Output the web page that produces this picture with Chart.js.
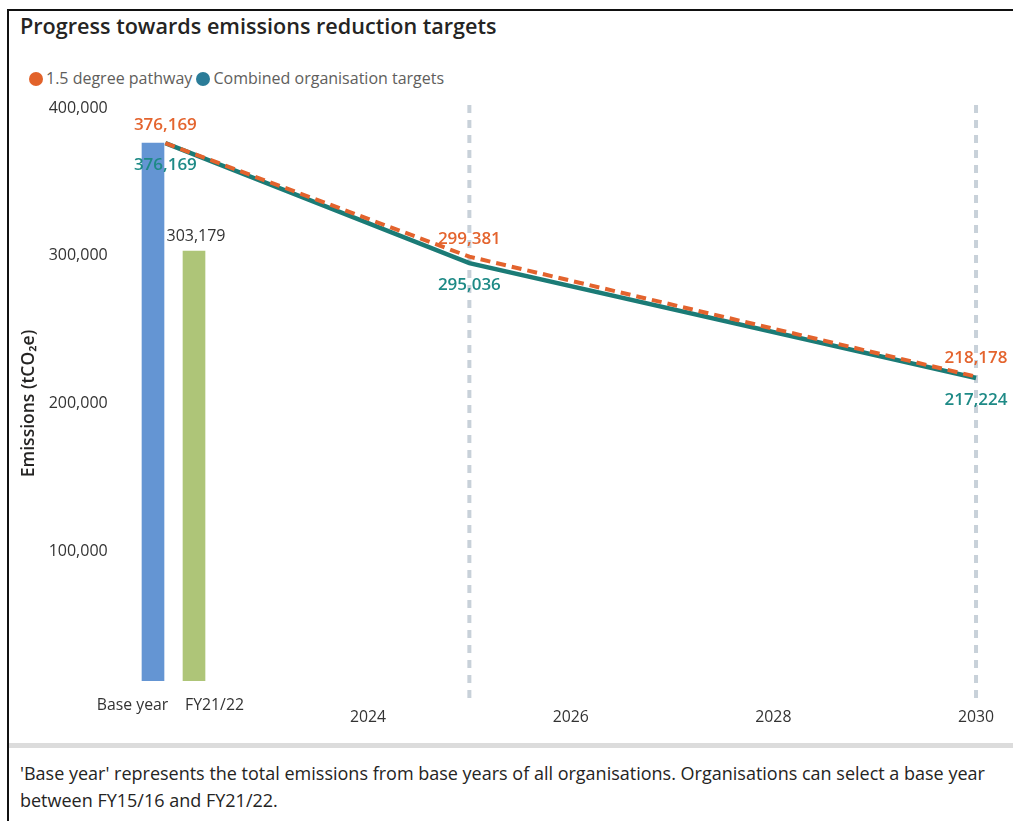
<!DOCTYPE html>
<html>
<head>
<meta charset="utf-8">
<script src="https://cdn.jsdelivr.net/npm/chart.js@4.4.0/dist/chart.umd.min.js"></script>
<style>
body{margin:0;background:#fff;width:1013px;height:821px;overflow:hidden;position:relative;font-family:'Open Sans',sans-serif;}
#frame{position:absolute;left:7px;top:9px;right:0;bottom:0;border-left:2px solid #111;border-top:2px solid #111;}
#title{position:absolute;left:20px;top:11px;font-size:21.6px;font-weight:600;color:#252423;white-space:nowrap;}
#legend{position:absolute;left:29px;top:67px;font-size:16px;color:#605e5c;white-space:nowrap;}
.dot{display:inline-block;width:14px;height:14px;border-radius:50%;vertical-align:-2px;margin-right:3px;}
#barWrap{position:absolute;left:80px;top:60px;width:200px;height:680px;}
#lineWrap{position:absolute;left:0;top:60px;width:1013px;height:680px;}
#sep{position:absolute;left:9px;right:0;top:743px;height:5px;background:#dcdcdc;}
#note{position:absolute;left:20px;top:760px;font-size:18px;line-height:27px;color:#252423;white-space:nowrap;}
</style>
</head>
<body>
<div id="frame"></div>
<div id="title">Progress towards emissions reduction targets</div>
<div id="legend"><span class="dot" style="background:#e2622a"></span>1.5 degree pathway <span class="dot" style="background:#2b7c98"></span>Combined organisation targets</div>
<div id="barWrap"><canvas id="barChart"></canvas></div>
<div id="lineWrap"><canvas id="lineChart"></canvas></div>
<div id="sep"></div>
<div id="note">'Base year' represents the total emissions from base years of all organisations. Organisations can select a base year<br>between FY15/16 and FY21/22.</div>
<script>
// data
var barLabels = ['Base year', 'FY21/22'];
var barValues = [376169, 303179];
var barColors = ['#6495d3', '#aec578'];

var targetYears = [2022, 2025, 2030];
var pathwayValues = [376169, 299381, 218178];
var combinedValues = [376169, 295036, 217224];

var xTickYears = [2024, 2026, 2028, 2030];
var yTickValues = [100000, 200000, 300000, 400000];
var dividerYears = [2025, 2030];

Chart.defaults.font.family = "'Open Sans', sans-serif";
Chart.defaults.color = '#333';

function fmt(v){
	return Number(v).toLocaleString('en-US');
}

// value above the FY21/22 bar (base year value is shown by the line labels)
var barValueLabels = {
	id: 'barValueLabels',
	afterDatasetsDraw: function(chart){
		var ctx = chart.ctx;
		var meta = chart.getDatasetMeta(0);
		ctx.save();
		ctx.font = '16px "Open Sans", sans-serif';
		ctx.fillStyle = '#333';
		ctx.textAlign = 'center';
		ctx.textBaseline = 'bottom';
		for(var i=1; i<meta.data.length; i++){
			var bar = meta.data[i];
			ctx.fillText(fmt(barValues[i]), bar.x + 2, bar.y - 7);
		}
		ctx.restore();
	}
};

new Chart(document.getElementById('barChart'), {
	type: 'bar',
	data: {
		labels: barLabels,
		datasets: [{
			data: barValues,
			backgroundColor: barColors,
			barThickness: 22,
			xAxisID: 'x',
			yAxisID: 'y'
		}]
	},
	options: {
		responsive: true,
		maintainAspectRatio: false,
		animation: false,
		layout: {padding: {left: 52.5, right: 65.5, top: 48, bottom: 0}},
		plugins: {legend: {display: false}, tooltip: {enabled: false}},
		scales: {
			x: {type: 'category', display: false, offset: true},
			xl: {
				type: 'category',
				position: 'bottom',
				labels: barLabels,
				offset: false,
				grid: {display: false, drawTicks: false},
				border: {display: false},
				ticks: {padding: 15, color: '#333', font: {size: 15.8}, maxRotation: 0, autoSkip: false},
				afterFit: function(s){ s.height = 59; s.paddingLeft = 0; s.paddingRight = 0; }
			},
			y: {display: false, min: 12000, max: 400000}
		}
	},
	plugins: [barValueLabels]
});

// dashed vertical markers
var dividers = {
	id: 'dividers',
	beforeDatasetsDraw: function(chart){
		var ctx = chart.ctx, area = chart.chartArea, xs = chart.scales.x;
		ctx.save();
		ctx.strokeStyle = '#c8d1d9';
		ctx.lineWidth = 4;
		ctx.setLineDash([8, 7]);
		dividerYears.forEach(function(yr){
			var px = xs.getPixelForValue(yr);
			ctx.beginPath();
			ctx.moveTo(px, area.top - 3);
			ctx.lineTo(px, area.bottom + 1);
			ctx.stroke();
		});
		ctx.restore();
	}
};

// point labels: pathway above, combined below
var pointLabels = {
	id: 'pointLabels',
	afterDatasetsDraw: function(chart){
		var ctx = chart.ctx;
		var styles = [{color: '#e4642e', dy: -18}, {color: '#1e8a86', dy: 22}];
		ctx.save();
		ctx.font = '600 17px "Open Sans", sans-serif';
		ctx.textAlign = 'center';
		ctx.textBaseline = 'middle';
		chart.data.datasets.forEach(function(ds, d){
			var meta = chart.getDatasetMeta(d);
			ctx.fillStyle = styles[d].color;
			meta.data.forEach(function(pt, i){
				ctx.fillText(fmt(ds.data[i].y), pt.x, pt.y + styles[d].dy);
			});
		});
		ctx.restore();
	}
};

function toPoints(values){
	return targetYears.map(function(yr, i){ return {x: yr, y: values[i]}; });
}

new Chart(document.getElementById('lineChart'), {
	type: 'line',
	data: {
		datasets: [{
			label: '1.5 degree pathway',
			data: toPoints(pathwayValues),
			borderColor: '#e3632d',
			borderWidth: 4,
			borderDash: [10, 6],
			pointRadius: 0,
			tension: 0
		},{
			label: 'Combined organisation targets',
			data: toPoints(combinedValues),
			borderColor: '#1b7b76',
			borderWidth: 4.5,
			pointRadius: 0,
			tension: 0
		}]
	},
	options: {
		responsive: true,
		maintainAspectRatio: false,
		animation: false,
		layout: {padding: {left: 0, right: 16.7, top: 48, bottom: 0}},
		plugins: {legend: {display: false}, tooltip: {enabled: false}},
		scales: {
			x: {
				type: 'linear',
				min: 2021.5,
				max: 2030.2,
				grid: {display: false, drawTicks: false},
				border: {display: false},
				afterBuildTicks: function(s){ s.ticks = xTickYears.map(function(v){ return {value: v}; }); },
				ticks: {padding: 9, color: '#333', font: {size: 15.8}, maxRotation: 0, callback: function(v){ return String(v); }},
				afterFit: function(s){ s.height = 41; s.paddingLeft = 0; s.paddingRight = 0; }
			},
			y: {
				min: 0,
				max: 400000,
				grid: {display: false, drawTicks: false},
				border: {display: false},
				afterBuildTicks: function(s){ s.ticks = yTickValues.map(function(v){ return {value: v}; }); },
				ticks: {padding: 7, color: '#333', font: {size: 16}, callback: function(v){ return fmt(v); }},
				title: {display: true, text: 'Emissions (tCO\u2082e)', color: '#252423', font: {size: 17.5, weight: '600'}, padding: {top: 19, bottom: 0}},
				afterFit: function(s){ s.width = 114.7; s.paddingTop = 0; s.paddingBottom = 0; }
			}
		}
	},
	plugins: [dividers, pointLabels]
});
</script>
</body>
</html>
